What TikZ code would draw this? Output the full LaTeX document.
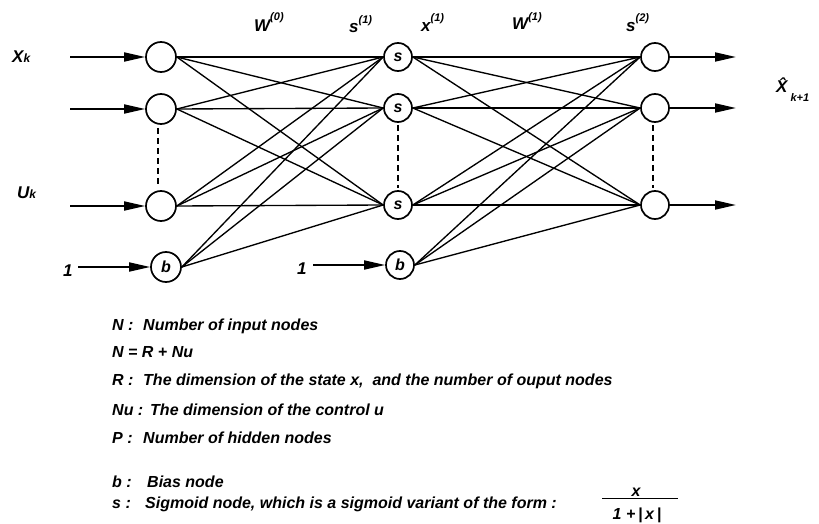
\documentclass[tikz,border=0pt]{standalone}
\usepackage{fontspec}
\setmainfont{Liberation Sans}
\usetikzlibrary{arrows.meta}
\newcommand\upidx[2][9pt]{\raisebox{#1}{\fontsize{11}{11}\selectfont #2}}
\newcommand\lowk[1]{{\fontsize{12}{12}\selectfont #1}}
\begin{document}
\begin{tikzpicture}[x=1pt,y=-1pt,
  neuron/.style={circle, draw, line width=1.7pt, minimum size=30pt, inner sep=0pt,
    font=\bfseries\itshape\fontsize{16}{16}\selectfont},
  hid/.style={neuron, minimum size=28pt},
  link/.style={line width=1.35pt},
  feed/.style={line width=1.8pt, -{Triangle[length=21pt,width=9pt]}},
  gap/.style={line width=1.6pt, dash pattern=on 6pt off 4pt},
  lbl/.style={font=\bfseries\itshape\fontsize{17}{17}\selectfont, inner sep=0pt, anchor=base west},
  txt/.style={font=\bfseries\itshape\fontsize{16}{16}\selectfont, inner sep=0pt, anchor=base west},
]
\useasboundingbox (0,0) rectangle (819,524);

% input layer
\node[neuron] (i1) at (161,57) {};
\node[neuron] (i2) at (161,109) {};
\node[neuron] (i3) at (161,206) {};
\node[neuron] (ib) at (166,267) {b};

% hidden layer
\node[hid] (h1) at (398,57) {s};
\node[hid] (h2) at (398,108) {s};
\node[hid] (h3) at (398,205) {s};
\node[hid] (hb) at (400,265) {b};

% output layer
\node[hid] (o1) at (655,57) {};
\node[hid] (o2) at (655,108) {};
\node[hid] (o3) at (655,205) {};

% weights between layers
\foreach \s in {i1,i2,i3,ib}
  \foreach \t in {h1,h2,h3}
    \draw[link] (\s.east) -- (\t.west);
\foreach \s in {h1,h2,h3,hb}
  \foreach \t in {o1,o2,o3}
    \draw[link] (\s.east) -- (\t.west);

% omitted nodes
\draw[gap] (i2.south) ++(-3,3) coordinate (ga) (i3.north) ++(-3,-3) coordinate (gb);
\draw[gap] (ga) -- (gb);
\draw[gap] (h2.south) ++(0,2) coordinate (gc) (h3.north) ++(0,-2) coordinate (gd);
\draw[gap] (gc) -- (gd);
\draw[gap] (o2.south) ++(-2,2) coordinate (ge) (o3.north) ++(-2,-2) coordinate (gf);
\draw[gap] (ge) -- (gf);

% input and output arrows
\coordinate (a1) at (70,57);
\coordinate (a2) at (70,109);
\coordinate (a3) at (70,206);
\coordinate (a4) at (78,267);
\coordinate (a5) at (313,265);
\draw[feed] (a1) -- (i1.west);
\draw[feed] (a2) -- (i2.west);
\draw[feed] (a3) -- (i3.west);
\draw[feed] (a4) -- (ib.west);
\draw[feed] (a5) -- (hb.west);
\coordinate (z1) at (736,57);
\coordinate (z2) at (736,108);
\coordinate (z3) at (736,205);
\draw[feed] (o1.east) -- (z1);
\draw[feed] (o2.east) -- (z2);
\draw[feed] (o3.east) -- (z3);

% labels
\node[lbl] (xk) at (12,63) {X\lowk{k}};
\node[lbl] (uk) at (17,198) {U\lowk{k}};
\node[lbl] (one1) at (63,276) {1};
\node[lbl] (one2) at (297,274) {1};
\node[lbl] (w0) at (254,32) {W\upidx[11pt]{(0)}};
\node[lbl] (s1) at (349,33) {s\upidx[9pt]{(1)}};
\node[lbl] (x1) at (421,32) {x\upidx[10pt]{(1)}};
\node[lbl] (w1) at (512,30) {W\upidx[9pt]{(1)}};
\node[lbl] (s2) at (626,32) {s\upidx[10pt]{(2)}};
\node[lbl] (xh) at (776,93) {\^{X}\kern3pt\raisebox{-9pt}{\fontsize{11}{11}\selectfont k+1}};

% legend
\node[txt] (n1) at (112,330) {N :};
\node[txt] (n2) at (143,330) {Number of input nodes};
\node[txt] (n3) at (112,357) {N = R + Nu};
\node[txt] (r1) at (112,385) {R :};
\node[txt] (r2) at (143,385) {The dimension of the state x,\ \ and the number of ouput nodes};
\node[txt] (u1) at (112,415) {Nu :};
\node[txt] (u2) at (150,415) {The dimension of the control u};
\node[txt] (p1) at (112,443) {P :};
\node[txt] (p2) at (143,443) {Number of hidden nodes};
\node[txt] (b1) at (112,487) {b :};
\node[txt] (b2) at (147,487) {Bias node};
\node[txt] (q1) at (112,508) {s :};
\node[txt] (q2) at (145,508) {Sigmoid node, which is a sigmoid variant of the form :};

% x / (1+|x|)
\node[txt, anchor=base] (fn) at (636,496) {x};
\draw[line width=1.4pt] (602,498.5) -- (678,498.5);
\node[txt, anchor=base] (fd) at (637,519) {1 +\,|\,x\,|};
\end{tikzpicture}
\end{document}
